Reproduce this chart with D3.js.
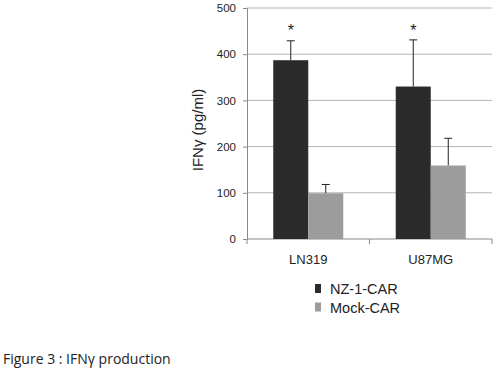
<!DOCTYPE html>
<html>
<head>
<meta charset="utf-8">
<script src="https://cdn.jsdelivr.net/npm/d3@7"></script>
<style>
  body { margin: 0; background: #fff; }
  svg { font-family: "Liberation Sans", Arial, sans-serif; }
</style>
</head>
<body>
<div class="graphic"></div>
<script>
const categories = ['LN319', 'U87MG'];
const seriesNames = ['NZ-1-CAR', 'Mock-CAR'];
const nzValues = [387, 330];
const nzErrors = [42, 101];
const mockValues = [99, 159];
const mockErrors = [19, 59];
const yTicks = [0, 100, 200, 300, 400, 500];
const significant = [true, true];

const colors = ['#2b2b2b', '#9c9c9c'];

const svg = d3.select('.graphic')
  .append('svg')
  .attr('width', 500)
  .attr('height', 370);

const margin = {top: 8, left: 247, right: 8, bottom: 131};
const width = 492 - margin.left;
const height = 239 - margin.top;

const g = svg.append('g')
  .attr('transform', 'translate(' + margin.left + ',' + margin.top + ')');

const x = d3.scaleBand()
  .domain(categories)
  .range([0, width]);

const inner = d3.scaleBand()
  .domain(seriesNames)
  .range([0, 70]);

const y = d3.scaleLinear()
  .domain([0, 500])
  .range([height, 0]);

// gridlines
g.selectAll('.grid')
  .data(yTicks.slice(1))
  .enter().append('line')
  .attr('class', 'grid')
  .attr('x1', 0)
  .attr('x2', width)
  .attr('y1', d => y(d))
  .attr('y2', d => y(d))
  .style('stroke', '#b4b4b4')
  .style('stroke-width', 1);

// y axis
const yAxis = g.append('g')
  .call(d3.axisLeft(y).tickValues(yTicks).tickSize(4).tickPadding(7));
yAxis.select('.domain').style('stroke', '#8a8a8a');
yAxis.selectAll('.tick line').style('stroke', '#8a8a8a');
yAxis.selectAll('text').style('font-size', '11.5px').style('fill', '#222');

// x axis line and category dividers
g.append('line')
  .attr('x1', 0).attr('x2', width)
  .attr('y1', height).attr('y2', height)
  .style('stroke', '#8a8a8a');

const dividers = [0].concat(categories.map(c => x(c) + x.bandwidth()));
g.selectAll('.div')
  .data(dividers)
  .enter().append('line')
  .attr('x1', d => d).attr('x2', d => d)
  .attr('y1', height).attr('y2', height + 5)
  .style('stroke', '#8a8a8a');

g.selectAll('.cat')
  .data(categories)
  .enter().append('text')
  .attr('x', d => x(d) + x.bandwidth() / 2)
  .attr('y', height + 25)
  .attr('text-anchor', 'middle')
  .style('font-size', '13px')
  .style('fill', '#222')
  .text(d => d);

// bars
const rows = [];
categories.forEach((c, i) => {
  rows.push({cat: c, s: 0, v: nzValues[i], e: nzErrors[i]});
  rows.push({cat: c, s: 1, v: mockValues[i], e: mockErrors[i]});
});

const off = (x.bandwidth() - 70) / 2;

function bx(d) { return x(d.cat) + off + inner(seriesNames[d.s]); }

g.selectAll('.err')
  .data(rows)
  .enter().append('line')
  .attr('x1', d => bx(d) + inner.bandwidth() / 2)
  .attr('x2', d => bx(d) + inner.bandwidth() / 2)
  .attr('y1', d => y(d.v))
  .attr('y2', d => y(d.v + d.e))
  .style('stroke', '#222')
  .style('stroke-width', 1);

g.selectAll('.cap')
  .data(rows)
  .enter().append('line')
  .attr('x1', d => bx(d) + inner.bandwidth() / 2 - 4)
  .attr('x2', d => bx(d) + inner.bandwidth() / 2 + 4)
  .attr('y1', d => y(d.v + d.e))
  .attr('y2', d => y(d.v + d.e))
  .style('stroke', '#222')
  .style('stroke-width', 1);

g.selectAll('.bar')
  .data(rows)
  .enter().append('rect')
  .attr('x', d => bx(d))
  .attr('y', d => y(d.v))
  .attr('width', inner.bandwidth())
  .attr('height', d => height - y(d.v))
  .style('fill', d => colors[d.s]);

// asterisks
g.selectAll('.star')
  .data(categories.filter((c, i) => significant[i]))
  .enter().append('text')
  .attr('x', d => x(d) + off + inner(seriesNames[0]) + inner.bandwidth() / 2)
  .attr('y', 28)
  .attr('text-anchor', 'middle')
  .style('font-size', '16px')
  .style('fill', '#222')
  .text('*');

// y label
svg.append('text')
  .attr('transform', 'translate(203,' + (margin.top + 122) + ') rotate(-90)')
  .attr('text-anchor', 'middle')
  .style('font-size', '15px')
  .style('fill', '#222')
  .text('IFNγ (pg/ml)');

// legend
const legend = svg.selectAll('.legend')
  .data(seriesNames)
  .enter().append('g')
  .attr('transform', (d, i) => 'translate(315,' + (284 + i * 18.5) + ')');

legend.append('rect')
  .attr('width', 6)
  .attr('height', 9)
  .style('fill', (d, i) => colors[i]);

legend.append('text')
  .attr('x', 15)
  .attr('y', 10)
  .style('font-size', '14.5px')
  .style('fill', '#222')
  .text(d => d);

// caption
svg.append('text')
  .attr('x', 3)
  .attr('y', 364)
  .style('font-family', '"Open Sans", sans-serif')
  .style('font-size', '14px')
  .style('fill', '#222')
  .text('Figure 3 : IFNγ production');
</script>
</body>
</html>
